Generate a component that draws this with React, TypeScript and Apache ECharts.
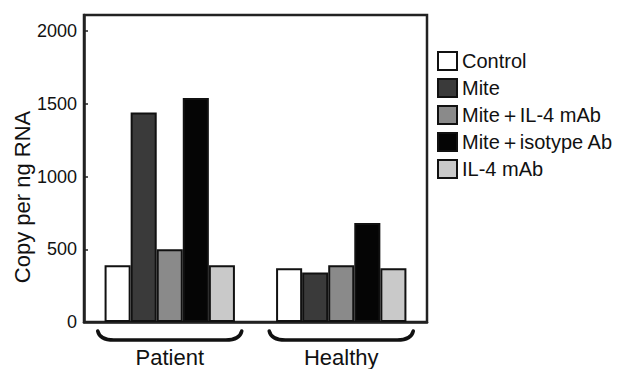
import React, { useEffect, useRef } from "react";
import * as echarts from "echarts";

const categories = ["Patient", "Healthy"];
const seriesNames = ["Control", "Mite", "Mite＋IL-4 mAb", "Mite＋isotype Ab", "IL-4 mAb"];
const controlValues = [390, 370];
const miteValues = [1440, 340];
const miteIL4Values = [500, 390];
const miteIsotypeValues = [1540, 680];
const il4Values = [390, 370];
const yTicks = [0, 500, 1000, 1500, 2000];
const yAxisTitle = "Copy per ng RNA";

const seriesValues = [controlValues, miteValues, miteIL4Values, miteIsotypeValues, il4Values];
const seriesColors = ["#ffffff", "#3a3a3a", "#8a8a8a", "#050505", "#c9c9c9"];
const FONT = "'Liberation Sans', Arial, Helvetica, sans-serif";

export default function App() {
  const ref = useRef<HTMLDivElement>(null);
  useEffect(() => {
    if (!ref.current) return;
    const chart = echarts.init(ref.current, undefined, { renderer: "svg" });
    const bars = seriesNames.map((name, i) => ({
      name,
      type: "bar",
      data: seriesValues[i],
      barGap: "0%",
      barCategoryGap: "24%",
      itemStyle: { color: seriesColors[i], borderColor: "#111", borderWidth: 2 },
    }));
    chart.setOption({
      animation: false,
      textStyle: { fontFamily: FONT },
      grid: {
        left: 84,
        right: 192,
        top: 15,
        bottom: 47,
        show: true,
        borderColor: "#222",
        borderWidth: 2.5,
        backgroundColor: "transparent",
      },
      legend: {
        orient: "vertical",
        left: 437,
        top: 51,
        padding: 0,
        itemWidth: 19,
        itemHeight: 18,
        itemGap: 7,
        icon: "rect",
        data: seriesNames,
        textStyle: { fontSize: 20, color: "#111", lineHeight: 20, fontFamily: FONT },
      },
      xAxis: {
        type: "category",
        data: categories,
        axisLine: { show: true, lineStyle: { color: "#222", width: 2.5 } },
        axisTick: { show: false },
        axisLabel: { fontSize: 22, color: "#111", margin: 24, fontFamily: FONT },
      },
      yAxis: {
        type: "value",
        min: 0,
        max: 2110,
        interval: 500,
        splitLine: { show: false },
        axisLine: { show: true, lineStyle: { color: "#222", width: 2.5 } },
        axisTick: { show: true, inside: true, length: 4, lineStyle: { color: "#222", width: 1.5 } },
        axisLabel: {
          fontSize: 18,
          color: "#111",
          margin: 7,
          fontFamily: FONT,
          showMaxLabel: false,
          formatter: (v: number) => (yTicks.indexOf(v) >= 0 ? String(v) : ""),
        },
      },
      graphic: [
        {
          type: "text",
          x: 22,
          y: 197,
          rotation: Math.PI / 2,
          style: {
            text: yAxisTitle,
            fontSize: 22,
            fontFamily: FONT,
            fill: "#111",
            textAlign: "center",
            textVerticalAlign: "middle",
          },
        },
      ],
      series: [
        ...bars,
        {
          type: "custom",
          name: "brace",
          silent: true,
          clip: false,
          data: categories.map((_, i) => [i, 0]),
          renderItem: (params: any, api: any) => {
            const p = api.coord([api.value(0), 0]);
            const w = api.size([1, 0])[0];
            const hw = w * 0.42;
            const x = p[0];
            const y0 = p[1] + 9;
            const y1 = p[1] + 18;
            const d = `M${x - hw},${y0} Q${x - hw + 2},${y1} ${x - hw + 16},${y1} L${x + hw - 16},${y1} Q${x + hw - 2},${y1} ${x + hw},${y0}`;
            return {
              type: "path",
              shape: { pathData: d },
              style: { fill: "none", stroke: "#111", lineWidth: 3.5, lineCap: "round" },
            };
          },
        },
      ],
    });
    return () => chart.dispose();
  }, []);
  return (
    <div
      ref={ref}
      style={{ position: "fixed", left: 0, top: 0, width: 619, height: 369, background: "#fff" }}
    />
  );
}
